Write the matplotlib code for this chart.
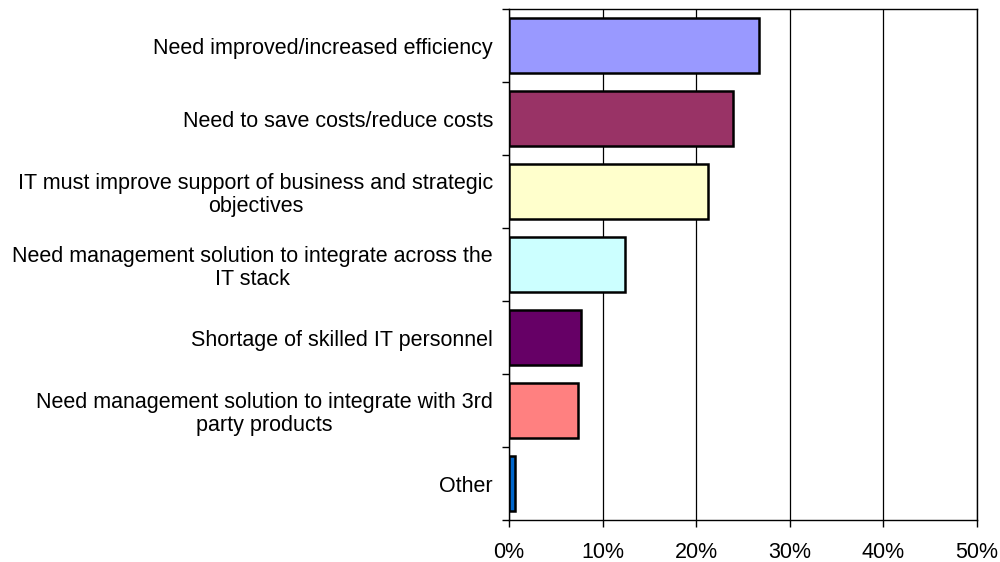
import matplotlib.pyplot as plt
from matplotlib.ticker import FuncFormatter, FixedLocator

plt.rcParams["font.family"] = ["Liberation Sans", "DejaVu Sans"]

categories = [
    "Need improved/increased efficiency",
    "Need to save costs/reduce costs",
    "IT must improve support of business and strategic\nobjectives",
    "Need management solution to integrate across the\nIT stack",
    "Shortage of skilled IT personnel",
    "Need management solution to integrate with 3rd\nparty products",
    "Other",
]
values = [26.7, 23.9, 21.3, 12.35, 7.7, 7.4, 0.64]
colors = ["#9999FF", "#993366", "#FFFFCC", "#CCFFFF", "#660066", "#FF8080", "#0066CC"]
xticks = [0, 10, 20, 30, 40, 50]

fig = plt.figure(figsize=(10, 5.62), dpi=100)
ax = fig.add_axes([0.509, 0.0747, 0.468, 0.909])

pos = list(range(len(categories)))
ax.barh(pos, values, height=0.75, color=colors, edgecolor="black",
        linewidth=1.8, zorder=3)

ax.set_xlim(0, 50)
ax.set_ylim(len(categories) - 0.5, -0.5)
ax.set_xticks(xticks)
ax.xaxis.set_major_formatter(FuncFormatter(lambda v, _: f"{v:.0f}%"))
ax.grid(axis="x", color="black", linewidth=0.9, zorder=0)

# ticks between categories, labels at category centres
ax.yaxis.set_major_locator(FixedLocator([p - 0.5 for p in pos] + [len(pos) - 0.5]))
ax.yaxis.set_major_formatter(FuncFormatter(lambda v, _: ""))
ax.yaxis.set_minor_locator(FixedLocator(pos))
ax.set_yticklabels(categories, minor=True, fontsize=15.5,
                   multialignment="center", linespacing=1.1)
ax.tick_params(axis="y", which="minor", length=0, pad=11.5)
ax.tick_params(axis="y", which="major", length=5, width=1, direction="out")
ax.tick_params(axis="x", length=5, width=1, direction="out", labelsize=15.5, pad=11)

for s in ax.spines.values():
    s.set_linewidth(1)
    s.set_color("black")

fig.savefig("out.png", dpi=100)
